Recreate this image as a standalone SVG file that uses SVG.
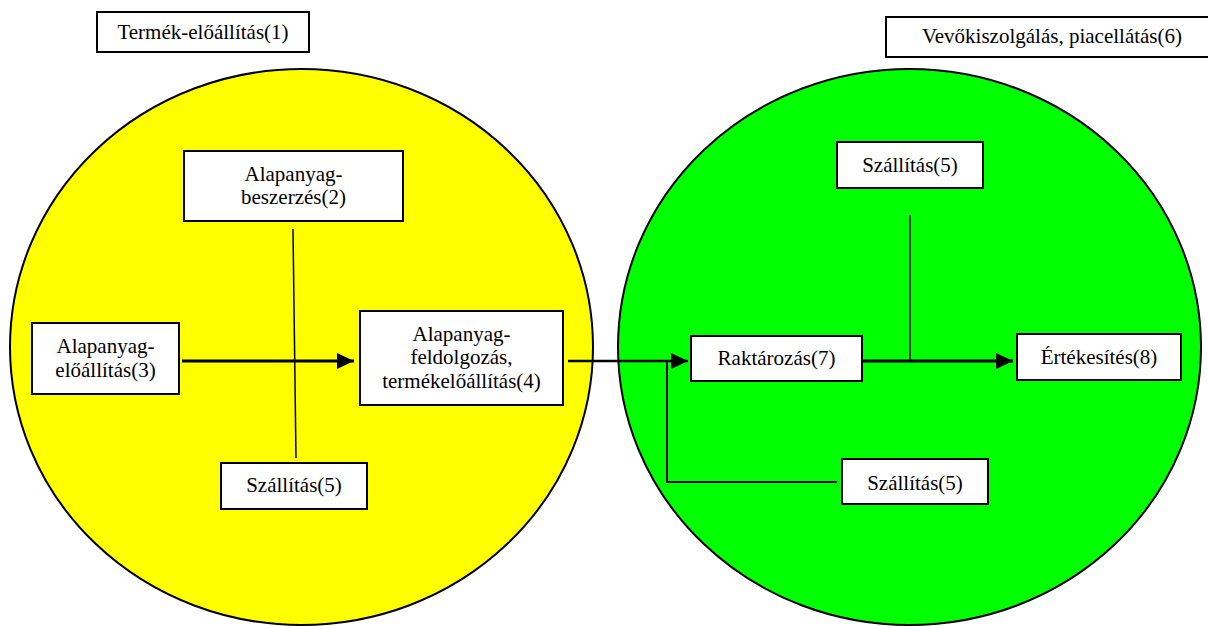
<svg xmlns="http://www.w3.org/2000/svg" width="1208" height="626" viewBox="0 0 1208 626">
<style>
.box{fill:#fff;stroke:#000;stroke-width:2}
.t{font-size:21px;fill:#000;text-anchor:middle}
.ln{fill:none;stroke:#000;stroke-width:2}
.thin{fill:none;stroke:#000;stroke-width:1.5}
.arr{fill:none;stroke:#000;stroke-width:3;marker-end:url(#ah)}
</style>
<defs>
<marker id="ah" markerUnits="userSpaceOnUse" markerWidth="18" markerHeight="18" refX="17" refY="8" orient="auto">
<path d="M0,0 L17,8 L0,16 z" fill="#000"/>
</marker>
</defs>
<rect width="1208" height="626" fill="#fff"/>
<g id="region-yellow"><ellipse cx="301.5" cy="347" rx="291.5" ry="278" fill="#ffff00" stroke="#000" stroke-width="2"/></g>
<g id="region-green"><ellipse cx="909.5" cy="347" rx="291.5" ry="278" fill="#00ff00" stroke="#000" stroke-width="2"/></g>
<g id="connectors">
<line class="thin" x1="293" y1="229" x2="296" y2="458"/>
<line class="arr" x1="182" y1="361" x2="354" y2="361"/>
<line class="arr" x1="568" y1="361" x2="688" y2="361" style="stroke-width:2.5"/>
<polyline class="ln" points="837,482 667,482 667,361"/>
<line class="thin" x1="910" y1="215" x2="910" y2="361"/>
<line class="arr" x1="862" y1="361" x2="1013" y2="361"/>
</g>
<g font-family="'Liberation Serif', 'Times New Roman', serif">
<g id="n1"><rect class="box" x="97" y="12" width="212" height="40"/><text class="t" x="203" y="39">Termék-előállítás(1)</text></g>
<g id="n6"><rect class="box" x="886" y="17" width="340" height="40"/><text class="t" x="1052" y="43">Vevőkiszolgálás, piacellátás(6)</text></g>
<g id="n2"><rect class="box" x="184" y="151" width="219" height="70"/><text class="t" x="293.5" y="181">Alapanyag-</text><text class="t" x="293.5" y="204">beszerzés(2)</text></g>
<g id="n3"><rect class="box" x="32" y="323" width="147" height="71"/><text class="t" x="105.5" y="353">Alapanyag-</text><text class="t" x="105.5" y="377">előállítás(3)</text></g>
<g id="n4"><rect class="box" x="360" y="311" width="203" height="94"/><text class="t" x="461.5" y="341">Alapanyag-</text><text class="t" x="461.5" y="364">feldolgozás,</text><text class="t" x="461.5" y="388">termékelőállítás(4)</text></g>
<g id="n5a"><rect class="box" x="221" y="463" width="146" height="46"/><text class="t" x="294" y="492">Szállítás(5)</text></g>
<g id="n5b"><rect class="box" x="837" y="142" width="146" height="46"/><text class="t" x="910" y="172">Szállítás(5)</text></g>
<g id="n7"><rect class="box" x="691" y="336" width="171" height="45"/><text class="t" x="776.5" y="365">Raktározás(7)</text></g>
<g id="n8"><rect class="box" x="1017" y="334" width="164" height="46"/><text class="t" x="1099" y="364">Értékesítés(8)</text></g>
<g id="n5c"><rect class="box" x="842" y="459" width="146" height="45"/><text class="t" x="915" y="490">Szállítás(5)</text></g>
</g>
</svg>
